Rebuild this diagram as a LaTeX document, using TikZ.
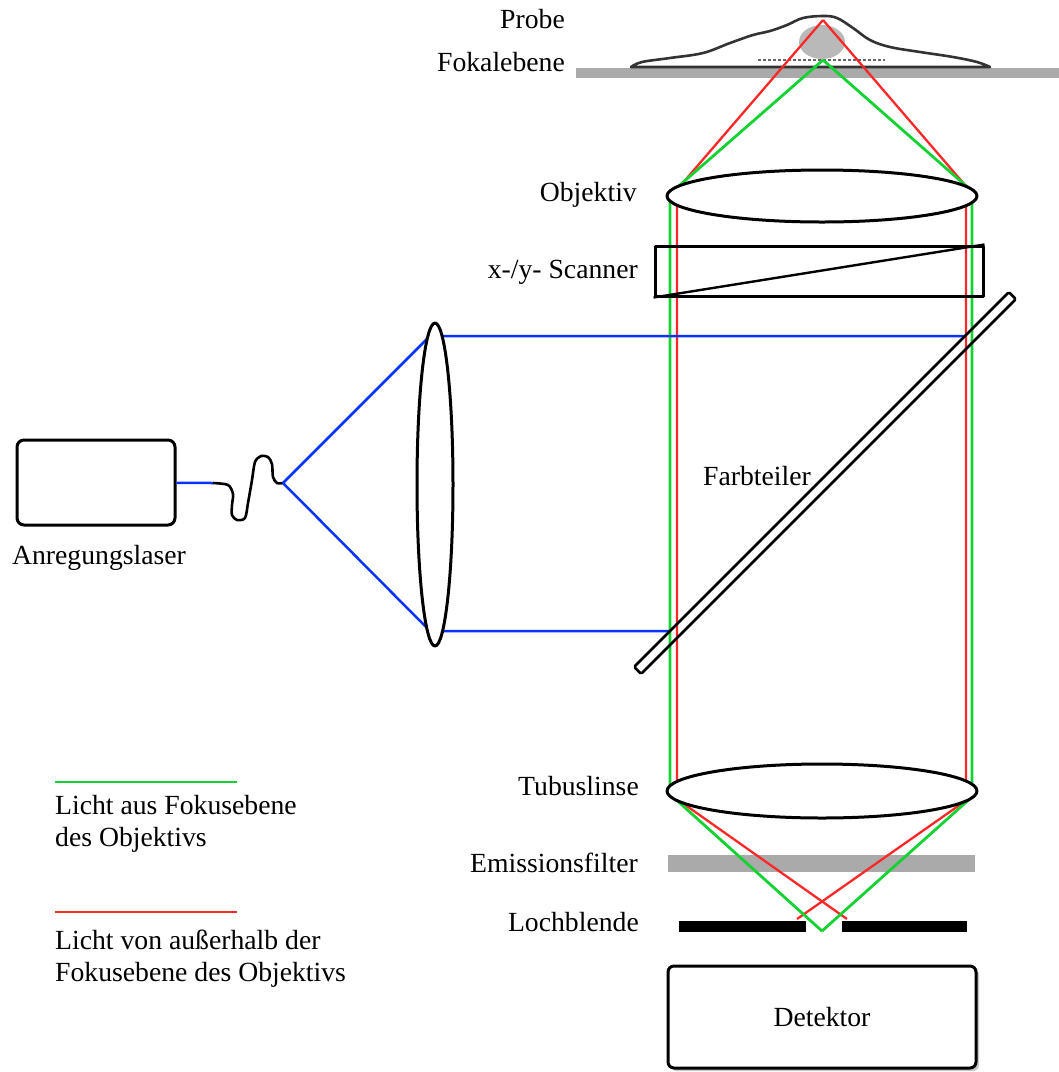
\documentclass[tikz,border=0pt]{standalone}
\usepackage{fontspec}
\setmainfont{Liberation Serif}
\usetikzlibrary{positioning,shapes.geometric,shadows}
\definecolor{raygreen}{RGB}{20,210,50}
\definecolor{rayred}{RGB}{255,40,40}
\definecolor{rayblue}{RGB}{10,50,255}
\definecolor{plategray}{RGB}{170,170,170}

\begin{document}
\begin{tikzpicture}[x=1pt,y=-1pt,line join=round,
  font=\fontsize{27.7}{32}\selectfont,
  lbl/.style={anchor=east,inner sep=0pt,text height=0.7em,text depth=0.2em},
  lens/.style={draw,ellipse,fill=white,line width=3pt,inner sep=0pt},
  box/.style={draw,rectangle,line width=3pt,inner sep=0pt},
  green ray/.style={raygreen,line width=2.8pt},
  red ray/.style={rayred,line width=2.3pt},
  blue ray/.style={rayblue,line width=2.5pt}]
  \useasboundingbox (0,0) rectangle (1059,1072);

  \coordinate (apex) at (823,20);
  \coordinate (fpt) at (823,60);
  \coordinate (pin) at (822,931);
  \coordinate (fib1) at (213,483);
  \coordinate (fib2) at (283,483);

  % probe on the focal plane
  \fill[plategray] (576,68) rectangle (1059,78);
  \fill[gray!55] (822,42) ellipse [x radius=23,y radius=17];
  \draw[black!80,line width=2.6pt] plot[smooth,tension=0.6] coordinates {(631,67) (642,62) (670,58)
    (703,53) (730,43) (753,35) (770,31) (787,25) (803,18) (823,16) (837,18) (853,28) (870,40)
    (890,47) (920,52) (953,57) (977,62) (990,67)} -- cycle;
  \draw[black!60,line width=2.4pt,dash pattern=on 3pt off 2pt] (758,60) -- (885,60);

  \fill[plategray] (668,855) rectangle (975,872);
  \fill (679,921) rectangle (806,932);
  \fill (842,921) rectangle (967,932);

  \draw[red ray] (apex) -- (675,192) -- (677,200) -- (677,790) -- (674,797) -- (847,919);
  \draw[red ray] (apex) -- (971,192) -- (966,200) -- (966,790) -- (971,797) -- (797,919);
  \draw[green ray] (fpt) -- (672,192) -- (670,200) -- (670,790) -- (672,796) -- (pin);
  \draw[green ray] (fpt) -- (973,192) -- (972,200) -- (972,790) -- (973,796) -- (pin);

  \node[box,rounded corners=7pt,minimum width=158,minimum height=85] (laser) at (96,482.5) {};
  \draw[blue ray] (laser) -- (fib1);
  \draw[line width=2.6pt] (fib1) plot[smooth] coordinates {(213,483) (228,485) (233,494) (232,505)
    (232,515) (237,520) (245,518) (248,503) (252,480) (255,462) (261,456) (268,457) (272,464)
    (273,477) (277,483) (283,483)};
  \draw[blue ray] (fib2) -- (430,336) -- (965,336);
  \draw[blue ray] (fib2) -- (430,631) -- (670,631);

  \node[lens,minimum width=36,minimum height=323] (coll) at (435,484.5) {};
  \node[lens,minimum width=310,minimum height=52] (obj) at (822,196) {};
  \node[lens,minimum width=310,minimum height=54] (tube) at (822,791) {};
  \node[box,minimum width=328,minimum height=50] (scan) at (819,271) {};
  \draw[line width=2.4pt] (scan.south west) -- (scan.north east);
  \node[draw,line width=2.6pt,rounded corners=1.5pt,minimum width=530,minimum height=10,
    inner sep=0pt,rotate=45] (split) at (825,483) {};
  \node[box,rounded corners=6pt,fill=white,minimum width=308,minimum height=102,
    drop shadow={shadow xshift=3pt,shadow yshift=-3pt,opacity=0.45}] (det) at (822,1017) {Detektor};

  \node[lbl] (probe) at (565,26) {Probe};
  \node[lbl] (fokal) at (565,69) {Fokalebene};
  \node[lbl] (objlbl) at (637,199) {Objektiv};
  \node[lbl] (scanlbl) at (638,276) {x-/y- Scanner};
  \node[lbl] (tubelbl) at (639,793) {Tubuslinse};
  \node[lbl] (emlbl) at (638,870) {Emissionsfilter};
  \node[lbl] (pinlbl) at (639,929) {Lochblende};
  \node[lbl,anchor=center] (splitlbl) at (757,483) {Farbteiler};
  \node[lbl,anchor=center] (laserlbl) at (99,562) {Anregungslaser};

  \draw[green ray] (55,782) -- (237,782);
  \node[anchor=north west,align=left,inner sep=0pt] (leg1) at (55,795) {Licht aus Fokusebene\\des Objektivs};
  \draw[red ray,line width=2.8pt] (55,912) -- (237,912);
  \node[anchor=north west,align=left,inner sep=0pt] (leg2) at (55,930) {Licht von außerhalb der\\Fokusebene des Objektivs};
\end{tikzpicture}
\end{document}
